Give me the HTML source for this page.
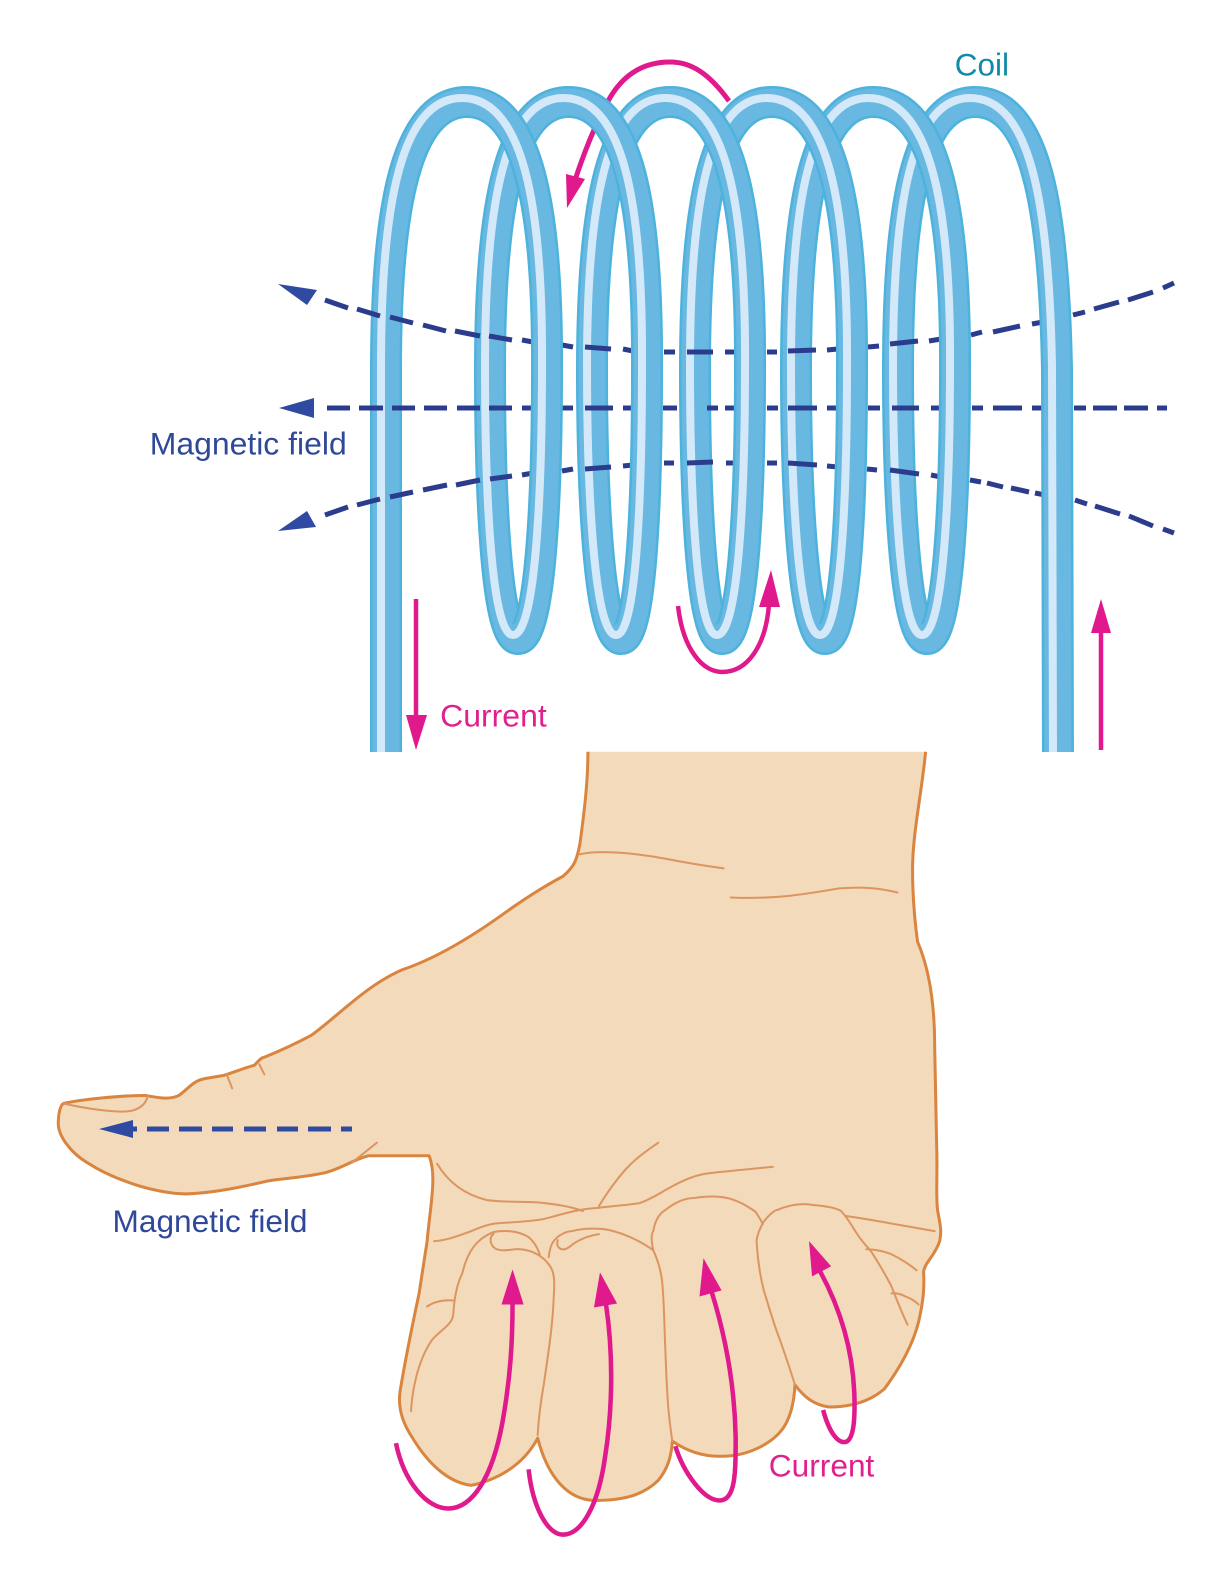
<!DOCTYPE html>
<html>
<head>
<meta charset="utf-8">
<title>Right hand rule for a coil</title>
<style>
html,body{margin:0;padding:0;background:#fff;}
svg{display:block;}
text{font-family:"Liberation Sans",sans-serif;font-size:31px;}
</style>
</head>
<body>
<svg width="1222" height="1576" viewBox="0 0 1222 1576" xmlns="http://www.w3.org/2000/svg">
<defs>
<path id="back" fill="none" d="M386,762 L386,370 C386,205 407,102 467,102
M518,639 C495,639 490,480 490,370 C490,205 510,102 568.5,102
M621,639 C598,639 592,480 592,370 C592,205 612,102 670,102
M722,639 C700,639 695,480 695,370 C695,205 714,102 771.5,102
M825,639 C802,639 796,480 796,370 C796,205 815,102 873,102
M927,639 C904,639 898,480 898,370 C898,205 917,102 975,102"/>
<path id="front" fill="none" d="M467,102 C527,102 548,205 547,370 C547,480 542,639 518,639
M568.5,102 C628,102 648,205 647,370 C647,480 643,639 621,639
M670,102 C730,102 751,205 750,370 C750,480 745,639 722,639
M771.5,102 C832,102 853,205 852,370 C852,480 848,639 825,639
M873,102 C934,102 956,205 955,370 C955,480 950,639 927,639
M975,102 C1035,102 1054,205 1057,370 L1058,762"/>
</defs>

<!-- back strands -->
<use href="#back" stroke="#4db2dc" stroke-width="32"/>
<use href="#back" stroke="#68b8e2" stroke-width="27"/>
<use href="#back" stroke="#d3e8f8" stroke-width="8" transform="translate(-5,-4)"/>

<!-- dashed field lines -->
<g fill="none" stroke="#2b3c8c" stroke-width="5">
<path d="M327,408H350M359,408H383M392,408H415M424,408H447M457,408H480M489,408H512M522,408H533M562,408H573M585,408H613M623,408H634M663,408H677M707,408H718M725,408H737M767,408H778M788,408H817M827,408H839M868,408H880M892,408H919M931,408H941M972,408H983M993,408H1022M1032,408H1043M1074,408H1086M1093,408H1117M1124,408H1148M1157,408H1167"/>
<path d="M325,300L348,308M357,309L380,316M390,317L413,323M423,325L446,331M455,331L480,336M489,336L512,340M522,340L533,342M562,345L573,347M585,347L611,349M623,349L633,351M664,352L675,352M687,352L713,352M725,352L736,352M767,352L777,352M788,351L816,350M827,350L838,349M868,347L879,346M890,344L918,341M929,341L941,339M971,335L982,332M993,332L1020,326M1032,324L1043,322M1073,315L1085,312M1094,309L1119,302M1128,300L1153,292M1163,288L1174,283"/>
<path d="M325,515L348,507M357,505L380,499M390,497L413,492M423,490L447,485M456,485L480,480M490,479L512,476M522,475L533,473M562,471L573,469M585,469L611,467M623,466L633,465M664,463L674,463M687,463L713,462M726,463L737,463M767,463L777,463M788,463L817,465M827,466L838,467M867,469L877,470M890,470L919,474M931,475L941,477M970,480L981,482M987,483L1003,487M1011,488L1029,492M1035,493L1045,495M1075,500L1087,504M1095,506L1120,514M1129,516L1153,526M1163,529L1174,533"/>
</g>
<g fill="#2f4aa0">
<polygon points="278,284 317,290 307,305"/>
<polygon points="279,408 314,398 314,418"/>
<polygon points="278,531 307,511 316,527"/>
</g>

<!-- top arrow passes behind the front strands -->
<path d="M729,101 C708,72 690,62 670,62 C640,62 620,78 607,103 C595,125 585,150 575,180" fill="none" stroke="#e0198c" stroke-width="5"/>
<polygon points="567,208 566,174 585,179" fill="#e0198c"/>

<!-- front strands -->
<use href="#front" stroke="#4db2dc" stroke-width="32"/>
<use href="#front" stroke="#68b8e2" stroke-width="27"/>
<use href="#front" stroke="#d3e8f8" stroke-width="8" transform="translate(-5,-4)"/>

<rect x="350" y="752" width="80" height="30" fill="#fff"/>
<rect x="1020" y="752" width="70" height="30" fill="#fff"/>

<!-- coil current arrows -->
<g fill="none" stroke="#e0198c" stroke-width="4.5">
<path d="M678,606 C683,650 703,672 722,672 C748,672 766,645 769,604"/>
<path d="M416,599 L416,720"/>
<path d="M1101,750 L1101,630"/>
</g>
<g fill="#e0198c">
<polygon points="771,570 759,607 780,607"/>
<polygon points="416,750 406,715 427,715"/>
<polygon points="1101,599 1091,633 1111,633"/>
</g>

<g transform="scale(1.005)">
<text x="950" y="75" fill="#0e8ba6" textLength="54" lengthAdjust="spacingAndGlyphs">Coil</text>
<text x="438" y="723" fill="#e0208c" textLength="106" lengthAdjust="spacingAndGlyphs">Current</text>
<text x="149" y="452" fill="#2f4898" textLength="196" lengthAdjust="spacingAndGlyphs">Magnetic field</text>

<!-- hand -->
<path fill="#f3dabb" stroke="#d9853f" stroke-width="3" stroke-linejoin="round" d="M921,748
C917,790 908,830 908,865 C908,890 910,915 913,937 C925,965 930,1000 930,1040
L932,1140 C933,1170 931,1190 933,1205 C936,1220 937,1225 935,1235 C930,1250 921,1255 919,1265
C920,1285 918,1295 916,1306 C912,1330 900,1355 880,1382 C865,1395 845,1400 825,1400
C810,1398 800,1390 791,1378 C790,1400 785,1412 780,1420 C770,1435 745,1450 715,1449
C700,1449 685,1445 669,1434 C668,1450 664,1462 655,1473 C640,1488 620,1493 591,1493
C565,1492 545,1470 535,1431 C525,1450 505,1470 469,1478 C445,1475 425,1455 410,1430
C400,1415 396,1400 398,1385 C402,1360 410,1320 417,1287 L425,1235 C428,1200 435,1170 427,1150
L367,1150 C355,1152 340,1163 323,1167 C300,1172 285,1172 267,1175 C245,1180 215,1187 185,1188
C150,1187 110,1172 87,1157 C70,1147 58,1130 58,1118 C58,1108 60,1100 63,1098
C80,1094 120,1090 145,1090 C160,1093 170,1094 178,1090 C188,1083 192,1075 205,1073 L223,1070
C235,1066 245,1062 253,1060 C257,1056 260,1052 263,1052 C280,1045 295,1038 310,1030
C335,1012 365,980 400,965 C430,955 465,935 500,910 C525,892 545,880 560,872
C572,862 574,855 577,840 C581,810 585,780 585,748"/>

<!-- thin hand lines -->
<g fill="none" stroke="#dc9560" stroke-width="2" stroke-linecap="round">
<path d="M577,850 C600,845 640,850 665,855 C690,860 705,862 720,864"/>
<path d="M727,893 C770,895 800,890 835,884 C860,882 875,884 893,888"/>
<path d="M63,1098 C90,1104 120,1108 132,1105 C142,1102 146,1096 147,1090"/>
<path d="M226,1070 L231,1083 M258,1059 L263,1069 M350,1157 L375,1137"/>
<path d="M435,1158 C445,1175 460,1188 484,1194 C505,1197 525,1195 541,1197 C560,1199 572,1202 580,1205"/>
<path d="M432,1235 C445,1234 455,1230 469,1225 C480,1220 490,1217 498,1217 C515,1216 530,1215 541,1213 C560,1208 575,1203 594,1202 C610,1200 625,1199 637,1197 C650,1192 655,1188 666,1182 C680,1174 690,1170 701,1168 C725,1165 750,1163 769,1161"/>
<path d="M596,1200 C605,1185 615,1172 623,1163 C633,1152 645,1144 655,1137"/>
<path d="M425,1300 C432,1295 442,1293 451,1294"/>
<!-- index -->
<path d="M409,1404 C410,1385 415,1355 430,1333 C440,1322 450,1318 451,1308 C452,1290 455,1277 460,1267 C465,1245 475,1232 491,1226 C500,1224 515,1224 526,1231 C532,1236 535,1242 537,1248"/>
<path d="M491,1228 C486,1232 488,1240 494,1243 C503,1246 510,1242 518,1243 C530,1244 540,1250 546,1258 C552,1265 552,1275 551,1290 C550,1320 545,1350 541,1378 C538,1395 536,1410 535,1428"/>
<!-- middle -->
<path d="M546,1251 C547,1243 549,1237 551,1235 C556,1228 565,1225 569,1225 C580,1222 590,1222 601,1223 C615,1225 635,1233 650,1244 C655,1255 658,1265 659,1277 C661,1300 661,1320 662,1342 C663,1370 664,1395 666,1411 C667,1420 668,1428 669,1434"/>
<path d="M555,1234 C553,1240 557,1244 562,1243 C566,1242 568,1239 573,1236 C580,1232 588,1229 596,1228"/>
<!-- ring -->
<path d="M650,1244 C648,1235 648,1228 650,1225 C652,1213 657,1207 662,1204 C672,1196 682,1192 691,1192 C705,1190 720,1190 730,1194 C742,1198 750,1205 751,1205 C755,1210 757,1214 759,1218"/>
<!-- little -->
<path d="M759,1217 C755,1225 752,1232 753,1238 C754,1255 757,1272 760,1284 C765,1300 770,1318 776,1333 C782,1350 787,1365 791,1378"/>
<path d="M759,1217 C765,1208 772,1204 773,1204 C785,1199 798,1197 809,1199 C822,1200 832,1202 837,1205 C843,1212 848,1220 851,1225 C856,1233 860,1238 866,1244 C875,1258 882,1270 887,1280 C893,1295 898,1308 903,1318"/>
<path d="M842,1210 C870,1214 900,1220 930,1225"/>
<path d="M862,1243 C870,1243 880,1245 887,1248 C897,1253 905,1258 912,1264"/>
<path d="M887,1287 C892,1286 897,1288 901,1290 C906,1292 911,1295 914,1298"/>
</g>

<text x="112" y="1226" fill="#2f4898" textLength="194" lengthAdjust="spacingAndGlyphs">Magnetic field</text>

<!-- finger current arrows -->
<g fill="none" stroke="#e0198c" stroke-width="4.5">
<path d="M394,1436 C402,1475 425,1501 446,1501 C470,1501 490,1470 500,1415 C508,1370 510,1335 510,1296"/>
<path d="M526,1462 C530,1500 545,1527 560,1527 C578,1527 595,1500 602,1450 C610,1400 610,1345 603,1298"/>
<path d="M672,1439 C680,1465 700,1493 716,1493 C732,1493 732,1465 732,1430 C731,1380 722,1330 708,1285"/>
<path d="M819,1403 C825,1425 833,1435 840,1435 C850,1435 851,1410 850,1385 C848,1340 835,1300 816,1265"/>
</g>
<g fill="#e0198c">
<polygon points="510,1263 499,1298 521,1298"/>
<polygon points="597,1266 591,1301 614,1297"/>
<polygon points="700,1252 696,1290 718,1284"/>
<polygon points="805,1235 808,1270 827,1260"/>
</g>
<text x="765" y="1469" fill="#e0208c" textLength="105" lengthAdjust="spacingAndGlyphs">Current</text>
</g>

<!-- thumb field arrow -->
<path d="M133,1129H137M147,1129H169M179,1129H202M212,1129H233M244,1129H266M277,1129H298M308,1129H331M341,1129H352" fill="none" stroke="#2f4aa0" stroke-width="5"/>
<polygon points="99,1129 133,1120 133,1138" fill="#2f4aa0"/>
</svg>
</body>
</html>
